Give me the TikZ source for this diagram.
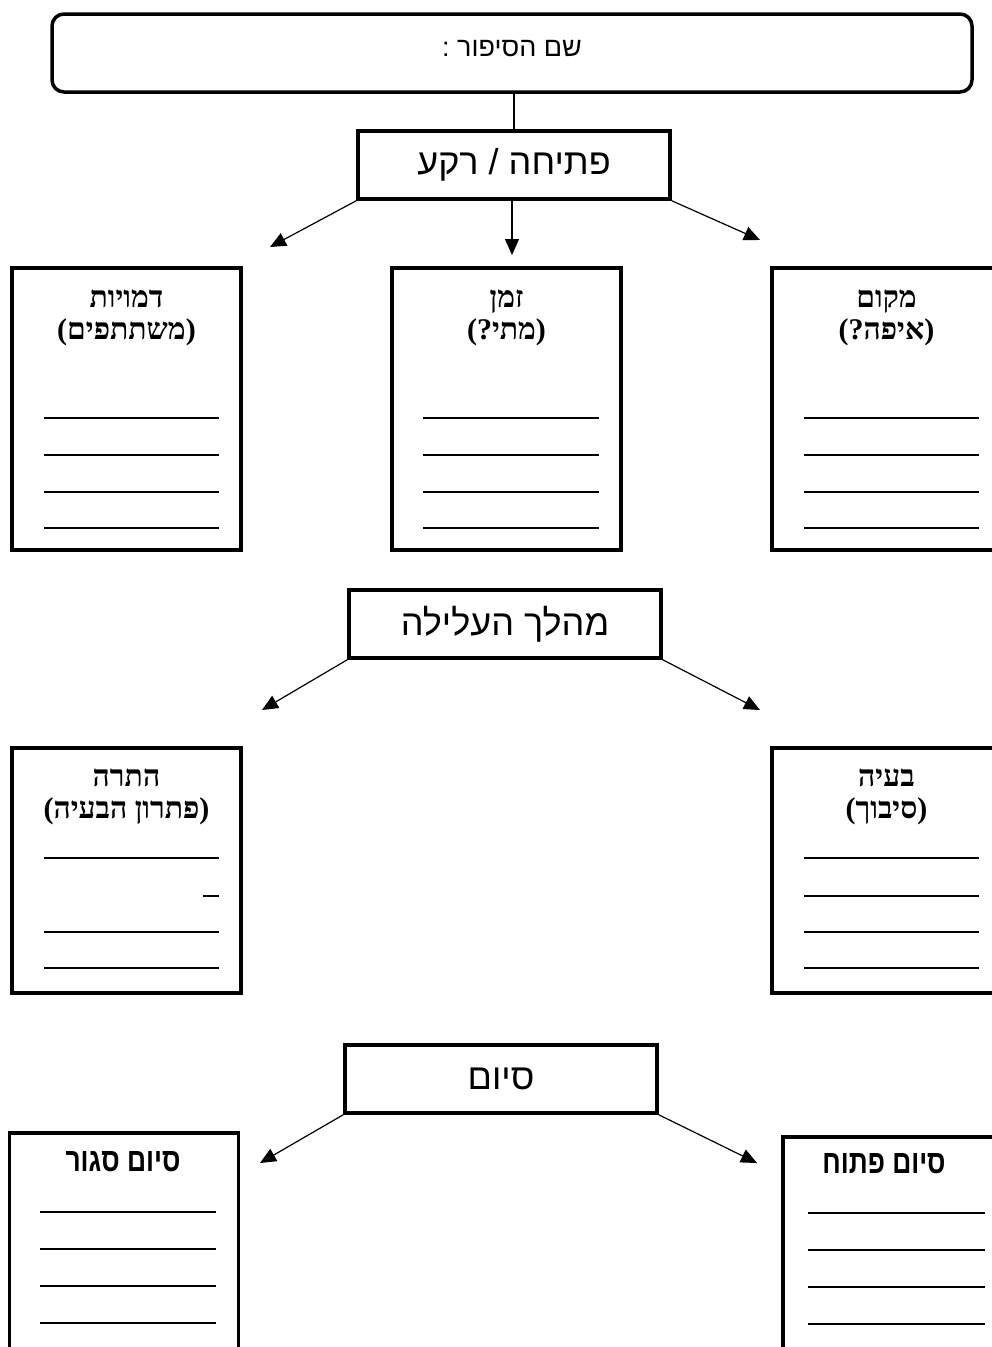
\documentclass[tikz,border=0pt]{standalone}
\usepackage{fontspec}
\usetikzlibrary{arrows.meta}
\TeXXeTstate=1
\newfontfamily\heb[Script=Hebrew]{Liberation Sans}
\newfontfamily\hebserif[Script=Hebrew, BoldFont={Liberation Serif Bold}]{Liberation Serif}
\newfontfamily\hebnarrow[Script=Hebrew, FakeStretch=0.8]{Liberation Sans Bold}
\newcommand{\rtl}[1]{\beginR #1\endR}
\begin{document}
\begin{tikzpicture}[x=1pt, y=-1pt,
    stage/.style = {draw, line width=3.5pt, minimum width=312pt, minimum height=68pt, font=\heb\fontsize{36}{40}\selectfont},
    topic/.style = {draw, line width=3.5pt, minimum width=229pt, inner sep=0pt},
    head/.style = {align=center, font=\hebserif\bfseries\fontsize{30}{32}\selectfont},
    endhead/.style = {font=\hebnarrow\fontsize{33}{36}\selectfont},
    blank/.style = {line width=1.2pt},
    arr/.style = {-{Triangle[length=16pt, width=14pt]}, line width=1.2pt}]
    \useasboundingbox (0,0) rectangle (992,1347);
    \clip (0,0) rectangle (992,1347);
    % title
    \node[draw, line width=3.5pt, rounded corners=12pt, minimum width=920pt, minimum height=78pt, text depth=10pt, font=\heb\fontsize{27}{30}\selectfont] (story) at (512,53) {\rtl{שם הסיפור :}};
    % opening / background
    \node[stage] (open) at (514,165) {\rtl{פתיחה / רקע}};
    \draw[line width=1.2pt] (open.north) -- (open.north |- story.south);
    \node[topic, minimum height=282pt] (people) at (126.5,409) {};
    \node[topic, minimum height=282pt] (time) at (506.5,409) {};
    \node[topic, minimum height=282pt] (place) at (886.5,409) {};
    \node[head] (peopleh) at (126.5,318) {\rtl{דמויות}\\\rtl{(משתתפים)}};
    \node[head] (timeh) at (506.5,318) {\rtl{זמן}\\\rtl{(מתי?)}};
    \node[head] (placeh) at (886.5,318) {\rtl{מקום}\\\rtl{(איפה?)}};
    \coordinate (openL) at (270,247);
    \coordinate (openM) at (512,255);
    \coordinate (openR) at (760,240);
    \draw[arr] (open.south west) -- (openL);
    \draw[arr] (open.south -| openM) -- (openM);
    \draw[arr] (open.south east) -- (openR);
    \foreach \y in {418,455,492,528} {
        \draw[blank] (44,\y) -- (219,\y);
        \draw[blank] (423,\y) -- (599,\y);
        \draw[blank] (804,\y) -- (979,\y);
    }
    % plot
    \node[stage] (plot) at (505,624) {\rtl{מהלך העלילה}};
    \node[topic, minimum height=245pt] (solve) at (126.5,870.5) {};
    \node[topic, minimum height=245pt] (problem) at (886.5,870.5) {};
    \node[head] (solveh) at (126.5,797) {\rtl{התרה}\\\rtl{(פתרון הבעיה)}};
    \node[head] (problemh) at (886.5,797) {\rtl{בעיה}\\\rtl{(סיבוך)}};
    \coordinate (plotL) at (262,710);
    \coordinate (plotR) at (760,710);
    \draw[arr] (plot.south west) -- (plotL);
    \draw[arr] (plot.south east) -- (plotR);
    \foreach \y in {858,932,968} {
        \draw[blank] (44,\y) -- (219,\y);
    }
    \draw[blank] (203,896) -- (219,896);
    \foreach \y in {858,896,932,968} {
        \draw[blank] (804,\y) -- (979,\y);
    }
    % ending
    \node[stage] (end) at (501,1079) {\rtl{סיום}};
    \node[topic, minimum height=280pt] (closed) at (124,1273) {};
    \node[topic, minimum height=280pt] (opened) at (897.5,1277) {};
    \node[endhead] (closedh) at (123,1162) {\rtl{סיום סגור}};
    \node[endhead] (openedh) at (884,1164) {\rtl{סיום פתוח}};
    \coordinate (endL) at (260,1163);
    \coordinate (endR) at (757,1163);
    \draw[arr] (end.south west) -- (endL);
    \draw[arr] (end.south east) -- (endR);
    \foreach \y in {1212,1249,1286,1323} {
        \draw[blank] (40,\y) -- (216,\y);
        \draw[blank] (808,\y+1) -- (985,\y+1);
    }
\end{tikzpicture}
\end{document}
